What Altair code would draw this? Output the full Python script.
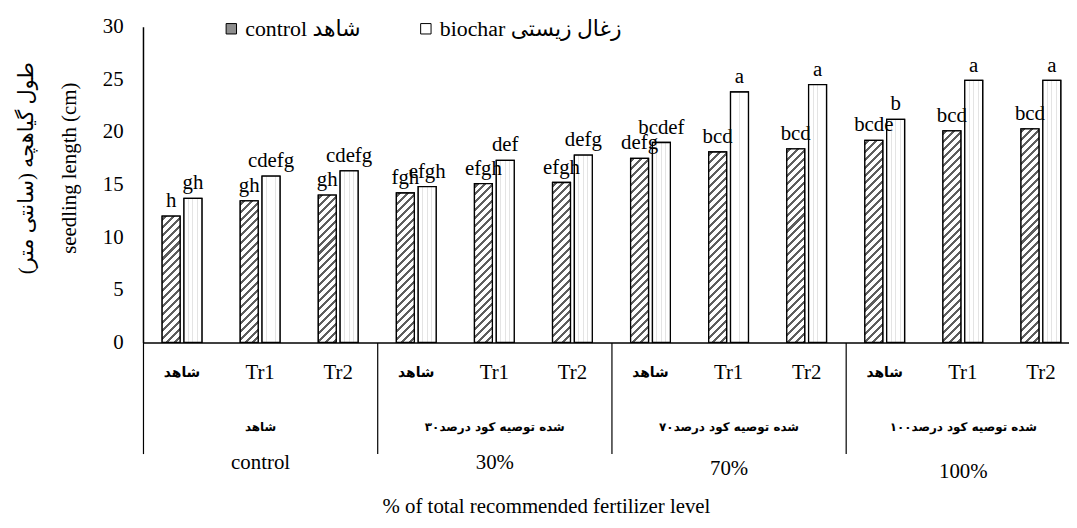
import altair as alt
import pandas as pd

# ---------------- data ----------------
group_ids = ["0", "1", "2", "3"]
group_fa = ["شاهد", "شده توصیه کود درصد۳۰", "شده توصیه کود درصد۷۰", "شده توصیه کود درصد۱۰۰"]
group_en = ["control", "30%", "70%", "100%"]
sub_labels = ["شاهد", "Tr1", "Tr2"]
series_names = ["control", "biochar"]

control_vals = [12.0, 13.45, 14.0, 14.2, 15.1, 15.2, 17.5, 18.1, 18.4, 19.2, 20.1, 20.3]
biochar_vals = [13.7, 15.8, 16.3, 14.8, 17.3, 17.8, 19.0, 23.8, 24.5, 21.2, 24.9, 24.9]
control_letters = ["h", "gh", "gh", "fgh", "efgh", "efgh", "defg", "bcd", "bcd", "bcde", "bcd", "bcd"]
biochar_letters = ["gh", "cdefg", "cdefg", "efgh", "def", "defg", "bcdef", "a", "a", "b", "a", "a"]

y_title = ["طول گیاهچه (سانتی متر)", "seedling length (cm)"]
x_title = "% of total recommended fertilizer level"
legend_labels = {"control": "control   شاهد", "biochar": "biochar  زغال زیستی"}

# ---------------- layout ----------------
PLOT_W, PLOT_H = 944, 318
Y_MAX = 30
BAR_STEP, BAR_PI = 22.0, 0.18
BAND = PLOT_W / 12
BAR_PO = (BAND / BAR_STEP - (2 - BAR_PI)) / 2
BAR_W = BAR_STEP * (1 - BAR_PI)
SERIF = "Liberation Serif"
FA = "DejaVu Sans"
FS = 21

keys = [f"{g}|{s}" for g in group_ids for s in sub_labels]
rows = []
for i, k in enumerate(keys):
    rows.append({"key": k, "series": "control", "value": control_vals[i],
                 "letter": control_letters[i], "idx": i})
    rows.append({"key": k, "series": "biochar", "value": biochar_vals[i],
                 "letter": biochar_letters[i], "idx": i})
df = pd.DataFrame(rows)
gdf = pd.DataFrame({"grp": group_ids})


def hatch(value, w=BAR_W, period=8.0, duty=0.38, dark="#5e5e5e", light="white"):
    h = value * PLOT_H / Y_MAX
    L = w + h
    s = L / (w * w + h * h)
    stops = [{"offset": 0, "color": light}]
    pos = 2.0
    while pos < L:
        a = pos / L
        b = min((pos + period * duty) / L, 1.0)
        stops += [{"offset": a, "color": light}, {"offset": a, "color": dark},
                  {"offset": b, "color": dark}, {"offset": b, "color": light}]
        pos += period
    stops.append({"offset": 1, "color": light})
    return {"gradient": "linear", "x1": 0, "y1": 0, "x2": s * w, "y2": s * h, "stops": stops}


def dots(dark="#e4e4e4", light="white"):
    stops = [{"offset": 0, "color": light}]
    for c in [0.25, 0.5, 0.75]:
        a, b = c - 0.025, c + 0.025
        stops += [{"offset": a, "color": light}, {"offset": a, "color": dark},
                  {"offset": b, "color": dark}, {"offset": b, "color": light}]
    stops.append({"offset": 1, "color": light})
    return {"gradient": "linear", "x1": 0, "y1": 0, "x2": 1, "y2": 0, "stops": stops}


is_fa_sub = "indexof(datum.value, 'Tr') < 0"
x_enc = alt.X(
    "key:N",
    scale=alt.Scale(domain=keys, paddingInner=0, paddingOuter=0),
    axis=alt.Axis(
        title=None, orient="bottom", ticks=False, domain=True, domainColor="black",
        domainWidth=1.5,
        labelExpr="split(datum.value, '|')[1]", labelAngle=0, labelBaseline="middle",
        labelPadding=30, labelColor="black",
        labelFont={"condition": {"test": is_fa_sub, "value": FA}, "value": SERIF},
        labelFontSize={"condition": {"test": is_fa_sub, "value": 14}, "value": FS},
        labelFontWeight={"condition": {"test": is_fa_sub, "value": "bold"}, "value": "normal"},
    ),
)
xo_enc = alt.XOffset("series:N", scale=alt.Scale(domain=series_names, paddingInner=BAR_PI,
                                                   paddingOuter=BAR_PO))
y_enc = alt.Y(
    "value:Q",
    scale=alt.Scale(domain=[0, Y_MAX], nice=False),
    axis=alt.Axis(
        values=[0, 5, 10, 15, 20, 25, 30], ticks=False, grid=False, domain=True,
        domainColor="black", domainWidth=1.5, labelFont=SERIF, labelFontSize=FS,
        labelColor="black", labelPadding=20,
        title=y_title, titleFont=f"{SERIF}, {FA}", titleFontSize=21, titleFontWeight="normal",
        titleColor="black", titleLineHeight=43, titleAngle=270, titleBaseline="middle",
        titleAlign="center", titleX=-117, titleY=142,
    ),
)

base = alt.Chart(df)
bars = base.mark_bar(stroke="black", strokeWidth=1.3).encode(
    x=x_enc, xOffset=xo_enc, y=y_enc,
    color=alt.Color(
        "series:N",
        scale=alt.Scale(domain=series_names, range=["#8e8e8e", "white"]),
        legend=alt.Legend(
            title=None, orient="none", direction="horizontal", legendX=78, legendY=-9,
            symbolType="square", symbolSize=110, symbolStrokeColor="black",
            symbolStrokeWidth=1, labelFont=f"{SERIF}, {FA}", labelFontSize=22,
            labelColor="black", labelOffset=3, columnPadding=43, labelLimit=400,
            labelExpr="datum.value == 'control' ? '" + legend_labels["control"]
                      + "' : '" + legend_labels["biochar"] + "'",
        ),
    ),
)

layers = [bars]
for i in range(len(keys)):
    layers.append(
        base.transform_filter(f"datum.idx == {i} && datum.series == 'control'")
        .mark_bar(fill=hatch(control_vals[i]), stroke="black", strokeWidth=1.3)
        .encode(x=x_enc, xOffset=xo_enc, y=y_enc)
    )
layers.append(
    base.transform_filter("datum.series == 'biochar'")
    .mark_bar(fill=dots(), stroke="black", strokeWidth=1.3)
    .encode(x=x_enc, xOffset=xo_enc, y=y_enc)
)
layers.append(
    base.mark_text(font=SERIF, fontSize=FS, color="black", baseline="bottom", dy=-5)
    .encode(x=x_enc, xOffset=xo_enc, y=y_enc, text="letter:N")
)
inner = alt.layer(*layers)

fa_expr = " : ".join(f"datum.value == '{g}' ? '{t}'" for g, t in zip(group_ids, group_fa)) + " : ''"
en_expr = " : ".join(f"datum.value == '{g}' ? '{t}'" for g, t in zip(group_ids, group_en)) + " : ''"

grp_a = alt.Chart(gdf).mark_point(opacity=0).encode(
    x=alt.X("grp:N", scale=alt.Scale(domain=group_ids, paddingInner=0, paddingOuter=0),
            axis=alt.Axis(title=None, orient="bottom", domain=False, ticks=True,
                          tickBand="extent", tickSize=112,
                          tickColor="black", tickWidth=1.2, labelExpr=fa_expr, labelAngle=0,
                          labelBaseline="middle", labelPadding=-27, labelFont=FA,
                          labelFontSize=12, labelFontWeight="bold", labelColor="black",
                          labelOverlap=False, labelBound=False, labelLimit=400))
)
grp_b = alt.Chart(gdf).mark_point(opacity=0).encode(
    x=alt.X("grp:N", scale=alt.Scale(domain=group_ids, paddingInner=0, paddingOuter=0),
            axis=alt.Axis(title=x_title, orient="bottom", domain=False, ticks=False,
                          labelExpr=en_expr,
                          labelAngle=0, labelBaseline="middle",
                          labelPadding={"condition": [
                              {"test": "datum.value == '2'", "value": 127},
                              {"test": "datum.value == '3'", "value": 130}], "value": 121},
                          labelFont=SERIF, labelFontSize=FS, labelColor="black",
                          labelOverlap=False,
                          titleFont=SERIF, titleFontSize=FS, titleFontWeight="normal",
                          titleColor="black", titleX=406, titleY=165, titleBaseline="middle",
                          titleAlign="center", titleLimit=600))
)

chart = (
    alt.layer(inner, grp_a, grp_b)
    .resolve_scale(x="independent")
    .properties(width=PLOT_W, height=PLOT_H,
                autosize=alt.AutoSizeParams(type="none"),
                padding={"left": 136, "top": 17, "right": -11, "bottom": 177})
    .configure_view(stroke=None)
    .configure_axis(grid=False)
)

chart.save("out.html", embed_options={"renderer": "svg", "actions": False})
